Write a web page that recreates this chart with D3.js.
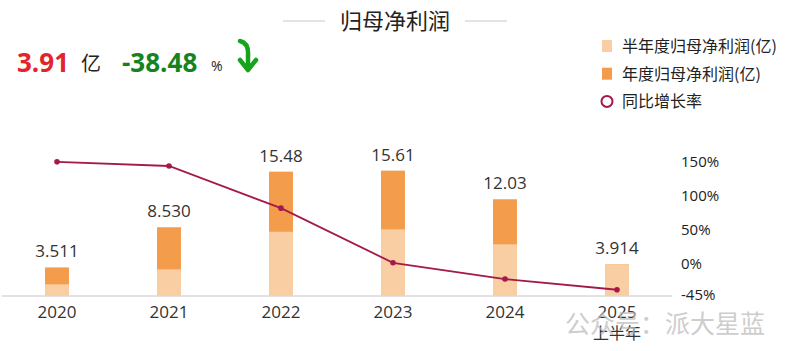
<!DOCTYPE html>
<html>
<head>
<meta charset="utf-8">
<script src="https://cdn.jsdelivr.net/npm/d3@7"></script>
<style>
  body { margin: 0; background: #fff; }
  svg { display: block; }
  text { font-family: "Open Sans", "Noto Sans CJK SC", sans-serif; }
  .cn { font-family: "Noto Sans CJK SC", sans-serif; }
</style>
</head>
<body>
<svg id="chart" width="800" height="351"></svg>
<script>
const years = ["2020", "2021", "2022", "2023", "2024", "2025"];
const annualProfit = [3.511, 8.530, 15.48, 15.61, 12.03, 3.914];
const halfYearProfit = [1.40, 3.27, 7.97, 8.27, 6.40, 3.914];
const valueLabels = ["3.511", "8.530", "15.48", "15.61", "12.03", "3.914"];
const growthRate = [148, 142, 80.5, 0.84, -22.9, -38.48];
const rateTicks = [150, 100, 50, 0, -45];

const svg = d3.select("#chart");

const x = d3.scaleBand().domain(years).range([1, 673]).paddingInner(0.786).paddingOuter(0.393);
const y = d3.scaleLinear().domain([0, 16]).range([295.5, 167.5]);
const yRate = d3.scaleLinear().domain([-45, 150]).range([294.2, 160.5]);

const darkOrange = "#f39d4c";
const lightOrange = "#f9cea3";
const lineColor = "#a5194a";

// title
svg.append("text").attr("class", "cn")
    .attr("x", 395).attr("y", 29)
    .attr("text-anchor", "middle")
    .style("font-size", "22px").style("fill", "#222")
    .text("归母净利润");
svg.append("line").attr("x1", 283).attr("x2", 325).attr("y1", 21).attr("y2", 21)
    .attr("stroke", "#c8c8c8").attr("stroke-width", 1);
svg.append("line").attr("x1", 465).attr("x2", 507).attr("y1", 21).attr("y2", 21)
    .attr("stroke", "#c8c8c8").attr("stroke-width", 1);

// headline numbers
svg.append("text").attr("x", 17).attr("y", 72)
    .style("font-size", "26px").style("font-weight", "bold").style("fill", "#e4232a")
    .text("3.91");
svg.append("text").attr("class", "cn").attr("x", 81).attr("y", 71)
    .style("font-size", "20px").style("fill", "#222")
    .text("亿");
svg.append("text").attr("x", 122).attr("y", 72)
    .style("font-size", "26px").style("font-weight", "bold").style("fill", "#15841e")
    .text("-38.48");
svg.append("text").attr("x", 211).attr("y", 71)
    .style("font-size", "14px").style("fill", "#222")
    .text("%");
svg.append("path")
    .attr("d", "M240,41 Q249,43 248,56 L248,69 M240,60 L248,70 L256,60")
    .attr("fill", "none").attr("stroke", "#17a31c").attr("stroke-width", 4.5)
    .attr("stroke-linecap", "round").attr("stroke-linejoin", "round");

// legend
const legend = svg.append("g");
const legendItems = ["半年度归母净利润(亿)", "年度归母净利润(亿)", "同比增长率"];
legendItems.forEach((name, i) => {
    const cy = 46 + i * 27.7;
    if (i < 2) {
        legend.append("rect").attr("x", 602).attr("y", cy - 6).attr("width", 10).attr("height", 12)
            .attr("fill", i === 0 ? lightOrange : darkOrange);
    } else {
        legend.append("circle").attr("cx", 607).attr("cy", cy).attr("r", 5.5)
            .attr("fill", "none").attr("stroke", lineColor).attr("stroke-width", 2);
    }
    legend.append("text").attr("class", "cn").attr("x", 622).attr("y", cy + 6)
        .style("font-size", "16px").style("fill", "#222").text(name);
});

// bars
svg.selectAll(".bar-annual").data(years).join("rect").attr("class", "bar-annual")
    .attr("x", d => x(d)).attr("width", x.bandwidth())
    .attr("y", (d, i) => y(annualProfit[i]))
    .attr("height", (d, i) => y(0) - y(annualProfit[i]))
    .attr("fill", darkOrange);
svg.selectAll(".bar-half").data(years).join("rect").attr("class", "bar-half")
    .attr("x", d => x(d)).attr("width", x.bandwidth())
    .attr("y", (d, i) => y(halfYearProfit[i]))
    .attr("height", (d, i) => y(0) - y(halfYearProfit[i]))
    .attr("fill", lightOrange);

svg.selectAll(".val").data(years).join("text").attr("class", "val")
    .attr("x", d => x(d) + x.bandwidth() / 2)
    .attr("y", (d, i) => y(annualProfit[i]) - 10)
    .attr("text-anchor", "middle")
    .style("font-size", "17px").style("fill", "#333")
    .text((d, i) => valueLabels[i]);

// baseline
svg.append("line").attr("x1", 2).attr("x2", 672).attr("y1", y(0) + 0.5).attr("y2", y(0) + 0.5)
    .attr("stroke", "#d9d9d9").attr("stroke-width", 1.5);

// x axis labels
svg.selectAll(".xl").data(years).join("text").attr("class", "xl")
    .attr("x", d => x(d) + x.bandwidth() / 2)
    .attr("y", 318)
    .attr("text-anchor", "middle")
    .style("font-size", "17px").style("fill", "#333")
    .text(d => d);
svg.append("text").attr("class", "cn")
    .attr("x", x("2025") + x.bandwidth() / 2).attr("y", 339)
    .attr("text-anchor", "middle")
    .style("font-size", "16px").style("fill", "#333")
    .text("上半年");

// right axis labels
svg.selectAll(".rl").data(rateTicks).join("text").attr("class", "rl")
    .attr("x", 681).attr("y", d => yRate(d) + 6)
    .style("font-size", "15px").style("fill", "#222")
    .text(d => d + "%");

// growth line
const line = d3.line()
    .x((d, i) => x(years[i]) + x.bandwidth() / 2)
    .y(d => yRate(d));
svg.append("path").datum(growthRate)
    .attr("d", line).attr("fill", "none")
    .attr("stroke", lineColor).attr("stroke-width", 1.8);
svg.selectAll(".pt").data(growthRate).join("circle").attr("class", "pt")
    .attr("cx", (d, i) => x(years[i]) + x.bandwidth() / 2)
    .attr("cy", d => yRate(d))
    .attr("r", 2.8).attr("fill", lineColor);

// watermark (sits over the 2025 label, as in the source image)
svg.append("text").attr("class", "cn")
    .attr("x", 565).attr("y", 333)
    .style("font-size", "25px").style("fill", "#bdbdbd").style("opacity", 0.75)
    .text("公众号：派大星蓝");
</script>
</body>
</html>
